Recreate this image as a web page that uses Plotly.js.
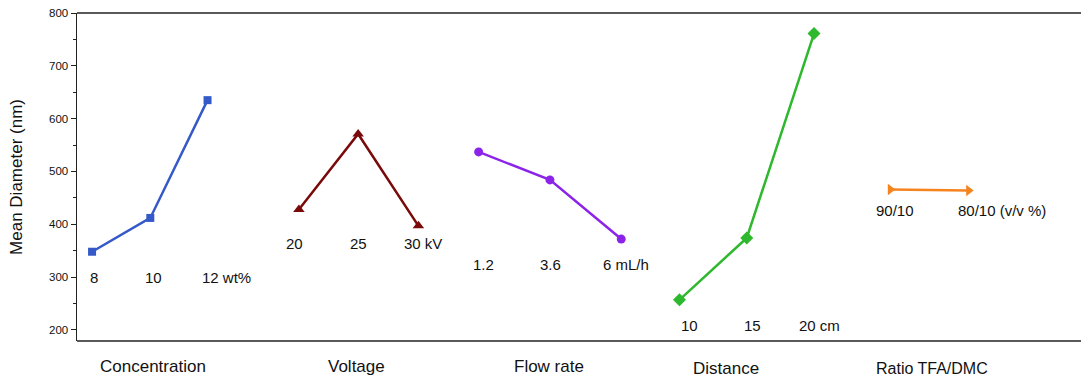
<!DOCTYPE html>
<html>
<head>
<meta charset="utf-8">
<script src="https://cdn.plot.ly/plotly-3.0.1.min.js"></script>
<style>html,body{margin:0;padding:0;background:#fff;overflow:hidden;}#chart{width:1081px;height:381px;overflow:hidden;}</style>
</head>
<body>
<div id="chart"></div>
<script>
// Groups (factor names)
const groupNames = ["Concentration", "Voltage", "Flow rate", "Distance", "Ratio TFA/DMC"];
// Position of each point along the hidden horizontal scale
const concX = [1.5, 7.3, 13.0];
const voltX = [22.1, 28.0, 34.0];
const flowX = [40.0, 47.1, 54.2];
const distX = [60.0, 66.7, 73.4];
const ratioX = [81.0, 88.8];
// Mean diameter values (nm)
const concY = [348, 412, 635];
const voltY = [428, 571, 397];
const flowY = [537, 484, 372];
const distY = [257, 374, 761];
const ratioY = [466, 464];
// Level labels
const concLabels = ["8", "10", "12 wt%"];
const voltLabels = ["20", "25", "30 kV"];
const flowLabels = ["1.2", "3.6", "6 mL/h"];
const distLabels = ["10", "15", "20 cm"];
const ratioLabels = ["90/10", "80/10 (v/v %)"];

const FONT = "Liberation Sans, Arial, sans-serif";

function line(x, y, color, symbol, size) {
  return {x: x, y: y, type: "scatter", mode: "lines+markers",
    line: {color: color, width: 2.5},
    marker: {color: color, symbol: symbol, size: size},
    cliponaxis: false, hoverinfo: "skip", showlegend: false};
}
const data = [
  line(concX, concY, "#3559c8", "square", 8),
  line(voltX, voltY, "#7a0a0a", "triangle-up", 10),
  line(flowX, flowY, "#8b24e8", "circle", 9),
  line(distX, distY, "#2db82d", "diamond", 10),
  line(ratioX, ratioY, "#f5841f", "triangle-right", 10)
];

// label placement (layout): x centres and y level per group
const labelSets = [
  {labels: concLabels, xs: [1.7, 7.6, 14.9], y: 300},
  {labels: voltLabels, xs: [21.7, 28.0, 34.5], y: 363},
  {labels: flowLabels, xs: [40.5, 47.2, 54.7], y: 323},
  {labels: distLabels, xs: [61.0, 67.3, 73.9], y: 209},
  {labels: ratioLabels, xs: [81.5, 92.1], y: 427}
];
const groupX = [7.6, 27.8, 47.0, 64.6, 85.1];
const groupY = [-0.079, -0.079, -0.079, -0.085, -0.085];

const annotations = [];
labelSets.forEach(s => {
  s.labels.forEach((t, i) => {
    annotations.push({x: s.xs[i], y: s.y, xref: "x", yref: "y", text: t,
      xanchor: "center", yanchor: "middle",
      showarrow: false, font: {family: FONT, size: 15, color: "#111"}});
  });
});
groupNames.forEach((g, i) => {
  annotations.push({x: groupX[i], y: groupY[i], xref: "x", yref: "paper", text: g,
    xanchor: "center", yanchor: "middle",
    showarrow: false, font: {family: FONT, size: i === 4 ? 16 : 17, color: "#111"}});
});

// the frame: left axis line plus top and bottom rules running to the page edge
const layout = {
  width: 1081, height: 381,
  margin: {l: 77, r: 30, t: 13, b: 40, pad: 0},
  paper_bgcolor: "#fff", plot_bgcolor: "rgba(0,0,0,0)",
  font: {family: FONT, color: "#111"},
  xaxis: {range: [0, 97], showgrid: false, zeroline: false, showticklabels: false,
    ticks: "", showline: false, mirror: false},
  yaxis: {range: [179, 800], showgrid: false, zeroline: false, mirror: false,
    dtick: 100, tick0: 0, ticks: "outside", ticklen: 5, tickwidth: 1, tickcolor: "#222",
    minor: {dtick: 50, ticks: "outside", ticklen: 3, tickcolor: "#222"},
    showline: true, linecolor: "#222", linewidth: 1.5,
    tickfont: {family: FONT, size: 11.5, color: "#111"},
    title: {text: "Mean Diameter (nm)", font: {family: FONT, size: 17, color: "#111"}, standoff: 22}},
  shapes: [
    {type: "line", xref: "paper", yref: "paper", x0: 0, x1: 1.04, y0: 1, y1: 1, line: {color: "#222", width: 1.5}},
    {type: "line", xref: "paper", yref: "paper", x0: 0, x1: 1.04, y0: 0, y1: 0, line: {color: "#222", width: 1.5}}
  ],
  annotations: annotations
};

Plotly.newPlot("chart", data, layout, {displayModeBar: false, staticPlot: true});
</script>
</body>
</html>
